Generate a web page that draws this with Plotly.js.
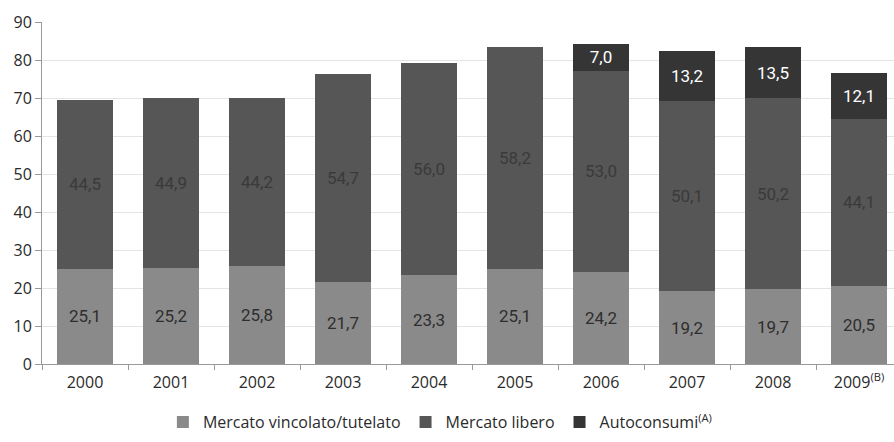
<!DOCTYPE html>
<html><head><meta charset="utf-8">
<script src="https://cdn.plot.ly/plotly-3.0.1.min.js"></script>
<style>body{margin:0;background:#fff}#c{width:894px;height:442px}</style>
</head><body><div id="c"></div>
<script>
const years = ['2000','2001','2002','2003','2004','2005','2006','2007','2008','2009'];
const yearLabels = ['2000','2001','2002','2003','2004','2005','2006','2007','2008','2009<sup>(B)</sup>'];
const vincolato = [25.1,25.2,25.8,21.7,23.3,25.1,24.2,19.2,19.7,20.5];
const libero = [44.5,44.9,44.2,54.7,56.0,58.2,53.0,50.1,50.2,44.1];
const autoconsumi = [null,null,null,null,null,null,7.0,13.2,13.5,12.1];
const names = ['Mercato vincolato/tutelato','Mercato libero','Autoconsumi<sup>(A)</sup>'];

const fmt = v => (v === null ? '' : v.toFixed(1).replace('.', ','));
function tr(vals, name, color, tcolor){
  return {type:'bar', x:years, y:vals, name:name, marker:{color:color},
    text:vals.map(fmt), textposition:'inside', insidetextanchor:'middle',
    textfont:{family:'Roboto, sans-serif', size:17, color:tcolor},
    hoverinfo:'none', cliponaxis:false};
}
const data = [
  tr(vincolato, names[0], '#8a8a8a', '#2e2e2e'),
  tr(libero, names[1], '#565656', '#3a3a3a'),
  tr(autoconsumi, names[2], '#353535', '#ffffff')
];
const layout = {
  width:894, height:442, barmode:'stack', bargap:0.34,
  margin:{l:42, r:0, t:22, b:78},
  paper_bgcolor:'#fff', plot_bgcolor:'#fff',
  font:{family:'Open Sans, sans-serif', size:16, color:'#2a2a2a'},
  showlegend:true,
  legend:{orientation:'h', x:0.467, xanchor:'center', y:-0.17, yanchor:'middle',
    font:{size:16, color:'#2a2a2a'}, traceorder:'normal', itemwidth:30},
  xaxis:{type:'category', range:[-0.5, 9.407], tickvals:years, ticktext:yearLabels,
    showline:true, linecolor:'#999', linewidth:1, ticks:'outside', tickson:'boundaries',
    ticklen:5, tickcolor:'#999', showgrid:false, fixedrange:true, ticklabelstandoff:4,
    tickfont:{size:16, color:'#2a2a2a'}},
  yaxis:{range:[0,90], dtick:10, showline:true, linecolor:'#999', linewidth:1,
    ticks:'outside', ticklen:6, tickcolor:'#999', gridcolor:'#e4e4e4', gridwidth:1,
    zeroline:false, tickfont:{size:16, color:'#2a2a2a'}, fixedrange:true}
};
Plotly.newPlot('c', data, layout, {displayModeBar:false, staticPlot:true});
</script></body></html>
